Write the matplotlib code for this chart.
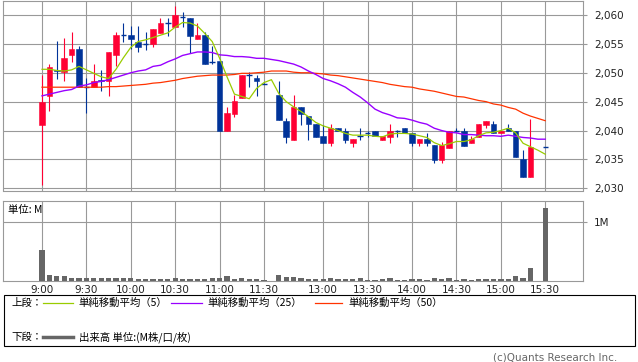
import numpy as np
import matplotlib
matplotlib.use('Agg')
import matplotlib.pyplot as plt
from matplotlib.patches import Rectangle
from matplotlib.lines import Line2D
from matplotlib.ticker import FuncFormatter

plt.rcParams['font.family'] = ['DejaVu Sans', 'Noto Sans CJK JP']

# ---- data (5-minute slots; slot 31 = lunch gap, slot 67 = no trade) ----
tick_slots = [0, 6, 12, 18, 24, 30, 38, 44, 50, 56, 62, 68]
tick_labels = ['9:00', '9:30', '10:00', '10:30', '11:00', '11:30',
               '13:00', '13:30', '14:00', '14:30', '15:00', '15:30']

opens = [2041.0, 2046.0, 2050.5, 2050.2, 2053.0, 2054.1, 2047.6, 2047.5, 2048.7, 2048.6,
         2053.0, 2056.7, 2056.6, 2055.4, 2055.1, 2054.9, 2056.9, 2058.7, 2058.0, 2059.7,
         2059.5, 2055.9, 2056.5, 2052.0, 2052.0, 2040.0, 2042.9, 2045.6, 2049.7, 2049.1,
         2048.2, None, 2046.2, 2041.7, 2038.4, 2044.1, 2042.5, 2041.2, 2039.1, 2037.9,
         2040.5, 2040.0, 2037.9, 2039.2, 2039.7, 2040.0, 2038.4, 2038.9, 2040.1, 2040.5,
         2039.6, 2037.9, 2038.5, 2037.5, 2034.9, 2037.0, 2040.1, 2040.0, 2037.9, 2038.9,
         2041.0, 2041.1, 2039.5, 2040.5, 2040.0, 2035.0, 2032.0, None, 2037.2]
highs = [2049.6, 2051.5, 2055.5, 2056.1, 2057.1, 2054.6, 2049.1, 2051.5, 2050.5, 2053.6,
         2057.1, 2058.6, 2058.1, 2058.1, 2057.1, 2057.6, 2059.5, 2059.5, 2061.6, 2060.5,
         2059.5, 2058.6, 2057.1, 2054.6, 2052.3, 2044.1, 2046.2, 2049.6, 2050.2, 2049.6,
         2048.2, None, 2048.6, 2042.1, 2046.2, 2044.1, 2042.5, 2041.2, 2040.9, 2041.1,
         2040.5, 2040.5, 2038.5, 2040.5, 2040.0, 2040.0, 2039.1, 2041.1, 2040.1, 2040.5,
         2039.6, 2038.5, 2039.6, 2037.5, 2038.0, 2040.0, 2040.5, 2040.5, 2039.1, 2041.1,
         2041.7, 2041.7, 2040.0, 2041.1, 2040.0, 2036.6, 2042.0, None, 2037.2]
lows = [2030.5, 2043.4, 2049.0, 2048.5, 2051.9, 2047.6, 2043.0, 2047.5, 2046.9, 2046.0,
        2051.1, 2055.4, 2054.1, 2053.6, 2053.9, 2054.5, 2056.9, 2056.4, 2058.0, 2058.0,
        2053.4, 2055.9, 2051.5, 2051.5, 2040.0, 2040.0, 2042.4, 2045.6, 2047.5, 2046.0,
        2048.1, None, 2041.9, 2037.9, 2038.4, 2040.9, 2038.4, 2038.9, 2037.9, 2037.4,
        2040.0, 2037.9, 2037.1, 2038.4, 2038.9, 2039.1, 2038.4, 2037.9, 2038.9, 2039.6,
        2037.4, 2037.4, 2037.4, 2034.3, 2034.3, 2037.0, 2040.0, 2037.4, 2037.9, 2038.9,
        2040.4, 2039.5, 2039.5, 2040.0, 2035.5, 2032.0, 2032.0, None, 2037.2]
closes = [2045.0, 2051.0, 2050.3, 2052.6, 2054.1, 2047.6, 2047.5, 2048.6, 2048.5, 2053.6,
          2056.6, 2056.6, 2055.9, 2054.5, 2055.0, 2057.6, 2058.6, 2058.6, 2060.0, 2059.6,
          2056.4, 2056.5, 2051.5, 2051.9, 2040.0, 2043.0, 2045.1, 2049.6, 2049.6, 2048.5,
          2048.1, None, 2041.9, 2038.9, 2044.1, 2042.9, 2041.1, 2038.9, 2037.9, 2040.5,
          2040.0, 2038.4, 2038.5, 2039.1, 2039.6, 2039.1, 2039.1, 2040.0, 2040.0, 2039.6,
          2037.9, 2038.5, 2037.9, 2034.9, 2037.5, 2040.0, 2040.0, 2037.4, 2038.5, 2041.1,
          2041.7, 2039.5, 2040.0, 2040.0, 2035.5, 2032.0, 2037.1, None, 2037.2]
volume_m = [0.53, 0.10, 0.07, 0.07, 0.05, 0.035, 0.05, 0.035, 0.035, 0.035,
            0.035, 0.035, 0.035, 0.02, 0.02, 0.02, 0.02, 0.02, 0.035, 0.02,
            0.02, 0.02, 0.02, 0.035, 0.05, 0.07, 0.02, 0.05, 0.025, 0.025,
            0.005, 0.0, 0.10, 0.06, 0.06, 0.05, 0.025, 0.025, 0.02, 0.05,
            0.02, 0.02, 0.02, 0.05, 0.005, 0.005, 0.02, 0.035, 0.005, 0.005,
            0.02, 0.02, 0.005, 0.035, 0.02, 0.035, 0.005, 0.02, 0.005, 0.02,
            0.02, 0.02, 0.02, 0.02, 0.07, 0.035, 0.21, 0.0, 1.25]
sma5 = [2050.6, 2050.6, 2050.4, 2050.3, 2050.5, 2051.1, 2050.5, 2049.9, 2049.3, 2049.0,
        2050.6, 2052.6, 2054.4, 2055.4, 2055.7, 2056.1, 2056.5, 2056.9, 2057.9, 2058.7,
        2058.6, 2058.1, 2056.8, 2055.4, 2052.5, 2049.3, 2046.3, 2045.9, 2045.5, 2047.3,
        2048.3, 2048.8, 2046.4, 2045.0, 2044.1, 2043.3, 2042.4, 2041.4, 2040.8, 2040.4,
        2040.0, 2039.5, 2039.2, 2039.2, 2039.2, 2039.0, 2038.9, 2039.4, 2039.5, 2039.5,
        2039.4, 2039.1, 2038.8, 2037.9, 2037.4, 2037.7, 2038.1, 2038.1, 2038.4, 2039.1,
        2039.6, 2039.7, 2040.0, 2040.4, 2039.6, 2037.8, 2037.2, 2036.6, 2035.9]
sma25 = [2046.0, 2046.3, 2046.6, 2046.9, 2047.1, 2047.7, 2047.9, 2048.3, 2048.5, 2048.8,
         2049.2, 2049.6, 2050.0, 2050.3, 2050.5, 2051.1, 2051.3, 2051.9, 2052.4, 2053.0,
         2053.3, 2053.6, 2053.6, 2053.5, 2053.1, 2053.0, 2052.8, 2052.8, 2052.7, 2052.5,
         2052.5, 2052.3, 2052.1, 2051.8, 2051.5, 2051.0, 2050.3, 2049.7, 2049.0, 2048.6,
         2048.1, 2047.5, 2046.6, 2045.8, 2044.8, 2043.7, 2043.1, 2042.7, 2042.2, 2042.1,
         2041.8, 2041.4, 2041.1, 2040.4, 2040.0, 2039.7, 2039.6, 2039.3, 2039.3, 2039.2,
         2039.1, 2039.1, 2039.0, 2039.2, 2039.0, 2038.8, 2038.7, 2038.5, 2038.5]
sma50 = [2047.5, 2047.5, 2047.5, 2047.5, 2047.5, 2047.5, 2047.5, 2047.5, 2047.5, 2047.6,
         2047.6, 2047.7, 2047.8, 2047.9, 2048.0, 2048.2, 2048.3, 2048.5, 2048.7, 2049.0,
         2049.2, 2049.4, 2049.5, 2049.6, 2049.6, 2049.6, 2049.7, 2049.9, 2049.9, 2050.0,
         2050.1, 2050.3, 2050.3, 2050.3, 2050.1, 2050.0, 2050.0, 2049.9, 2049.8, 2049.6,
         2049.5, 2049.3, 2049.1, 2048.9, 2048.7, 2048.5, 2048.3, 2048.0, 2047.8, 2047.6,
         2047.5, 2047.2, 2047.0, 2046.8, 2046.5, 2046.2, 2045.9, 2045.8, 2045.5, 2045.2,
         2045.0, 2044.6, 2044.4, 2044.0, 2043.7, 2043.0, 2042.5, 2042.1, 2041.7]
price_ticks = [2030, 2035, 2040, 2045, 2050, 2055, 2060]

RED = '#FF0033'
BLUE = '#003399'
GRID = '#999999'

W, H = 638, 362
fig = plt.figure(figsize=(W / 100, H / 100), dpi=100)


def fx(px):
    return px / W


def fy(py):
    return 1 - py / H


ax = fig.add_axes([fx(3), fy(190.5), fx(580), 189.5 / H])
axv = fig.add_axes([fx(3), fy(280.5), fx(580), 79.5 / H])

slots = np.arange(len(opens))
xlim = (-5.27, 73.1)

# candles
bw = 0.74
for i in slots:
    o, h, l, c = opens[i], highs[i], lows[i], closes[i]
    if o is None:
        continue
    col = RED if c > o else BLUE
    ax.vlines(i, l, h, color=col, lw=0.8, zorder=2)
    if abs(c - o) < 0.15:
        ax.hlines(c, i - bw / 2, i + bw / 2, color=col, lw=1.0, zorder=2)
    else:
        ax.bar(i, abs(c - o), bottom=min(o, c), width=bw, color=col,
               edgecolor=col, lw=0.4, zorder=2)

ax.plot(slots, sma50, color='#FF3300', lw=0.9, zorder=3)
ax.plot(slots, sma25, color='#9900FF', lw=1.0, zorder=3)
ax.plot(slots, sma5, color='#99CC00', lw=0.9, zorder=3)

ax.set_xlim(*xlim)
ax.set_ylim(2029.62, 2062.42)
ax.set_xticks(tick_slots)
ax.set_xticklabels([])
ax.set_yticks(price_ticks)
ax.yaxis.tick_right()
ax.yaxis.set_major_formatter(FuncFormatter(lambda v, p: f'{int(v):,}'))
ax.tick_params(axis='x', length=0)
ax.tick_params(axis='y', direction='out', length=3, color=GRID, width=0.8,
               labelsize=7.5, pad=5, labelcolor='#222222')
ax.grid(True, color=GRID, lw=0.8)
ax.set_axisbelow(True)
for s in ax.spines.values():
    s.set_color(GRID)
    s.set_linewidth(0.8)

# volume
vs = [i for i in slots if volume_m[i] > 0]
axv.bar(vs, [volume_m[i] for i in vs], width=0.72, color='#666666', zorder=2)
axv.set_xlim(*xlim)
axv.set_ylim(0, 1.364)
axv.set_xticks(tick_slots)
axv.set_xticklabels(tick_labels)
axv.set_yticks([1])
axv.set_yticklabels(['1M'])
axv.yaxis.tick_right()
axv.tick_params(axis='x', length=0, labelsize=7.5, pad=3, labelcolor='#222222')
axv.tick_params(axis='y', direction='out', length=3, color=GRID, width=0.8,
                labelsize=7.5, pad=5, labelcolor='#222222')
axv.grid(True, color=GRID, lw=0.8)
axv.set_axisbelow(True)
for s in axv.spines.values():
    s.set_color(GRID)
    s.set_linewidth(0.8)

jp = ['Noto Sans CJK JP', 'DejaVu Sans']
fig.text(fx(8), fy(210), '単位: M', fontsize=7.5, va='center', ha='left', family=jp)

# legend box
fig.add_artist(Rectangle((fx(3.5), fy(346)), fx(631.5), 51 / H, transform=fig.transFigure,
                         fill=False, ec='black', lw=0.8))
fig.text(fx(11), fy(303), '上段：', fontsize=7.5, va='center', ha='left', family=jp)
fig.text(fx(11), fy(337), '下段：', fontsize=7.5, va='center', ha='left', family=jp)
legend_items = [(43, 73, 78, '#99CC00', '単純移動平均（5）'),
                (171, 202, 207, '#9900FF', '単純移動平均（25）'),
                (315, 342, 348, '#FF3300', '単純移動平均（50）')]
for x0, x1, xt, col, lab in legend_items:
    fig.add_artist(Line2D([fx(x0), fx(x1)], [fy(303), fy(303)], color=col, lw=0.9,
                          transform=fig.transFigure))
    fig.text(fx(xt), fy(303), lab, fontsize=7.5, va='center', ha='left', family=jp)
fig.add_artist(Line2D([fx(43), fx(73)], [fy(337), fy(337)], color='#666666', lw=2.5,
                      transform=fig.transFigure))
fig.text(fx(79), fy(337), '出来高 単位:(M株/口/枚)', fontsize=7.5, va='center', ha='left',
         family=jp)

fig.text(fx(617), fy(357), '(c)Quants Research Inc.', fontsize=7.5, va='center', ha='right',
         color='#666666')

fig.savefig('out.png', dpi=100)
